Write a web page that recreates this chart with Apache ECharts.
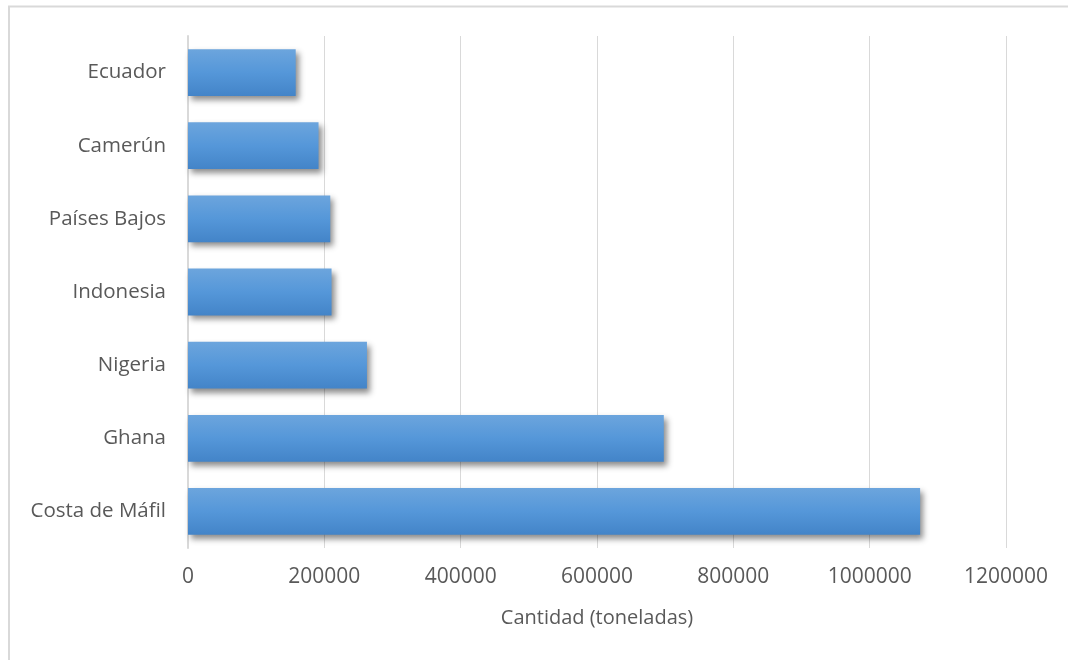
<!DOCTYPE html>
<html>
<head>
<meta charset="utf-8">
<script src="https://cdn.jsdelivr.net/npm/echarts@6/dist/echarts.min.js"></script>
<style>
  html, body { margin: 0; padding: 0; background: #ffffff; }
  #chart { width: 1068px; height: 660px; }
</style>
</head>
<body>
<div id="chart"></div>
<script>
// Countries, listed top to bottom
const countries = ['Ecuador', 'Camerún', 'Países Bajos', 'Indonesia', 'Nigeria', 'Ghana', 'Costa de Máfil'];
// Quantity in tonnes, same order
const quantities = [158000, 191500, 208700, 210600, 262500, 698000, 1074000];
// Value axis ticks
const xTicks = [0, 200000, 400000, 600000, 800000, 1000000, 1200000];
const xTitle = 'Cantidad (toneladas)';

const FONT = '"Open Sans", "Noto Sans", sans-serif';
const TEXT = '#595959';
const GRID = '#d9d9d9';

const chart = echarts.init(document.getElementById('chart'), null, { renderer: 'canvas' });

chart.setOption({
  animation: false,
  backgroundColor: '#ffffff',
  graphic: [{
    type: 'rect',
    shape: { x: 9, y: 6.5, width: 1200, height: 800 },
    style: { fill: 'none', stroke: GRID, lineWidth: 2 },
    silent: true
  }],
  grid: { left: 188, right: 62, top: 36, bottom: 112, containLabel: false },
  xAxis: {
    type: 'value',
    min: xTicks[0],
    max: xTicks[xTicks.length - 1],
    interval: xTicks[1] - xTicks[0],
    name: xTitle,
    nameLocation: 'middle',
    nameGap: 60,
    nameTextStyle: { color: TEXT, fontFamily: FONT, fontSize: 20 },
    axisLine: { show: false },
    axisTick: { show: false },
    axisLabel: {
      color: TEXT, fontFamily: FONT, fontSize: 21, margin: 19,
      formatter: (v) => String(v)
    },
    splitLine: { show: true, lineStyle: { color: GRID, width: 1 } }
  },
  yAxis: {
    type: 'category',
    data: countries,
    inverse: true,
    axisLine: { show: true, lineStyle: { color: GRID, width: 2 } },
    axisTick: { show: false },
    axisLabel: { color: TEXT, fontFamily: FONT, fontSize: 20.5, margin: 22 },
    splitLine: { show: false }
  },
  series: [{
    type: 'bar',
    data: quantities,
    barCategoryGap: '36%',
    itemStyle: {
      color: new echarts.graphic.LinearGradient(0, 0, 0, 1, [
        { offset: 0, color: '#6ca5dd' },
        { offset: 0.5, color: '#5597d9' },
        { offset: 1, color: '#4384c8' }
      ]),
      shadowColor: 'rgba(0,0,0,0.45)',
      shadowBlur: 6,
      shadowOffsetX: 3,
      shadowOffsetY: 4
    }
  }]
});
</script>
</body>
</html>
